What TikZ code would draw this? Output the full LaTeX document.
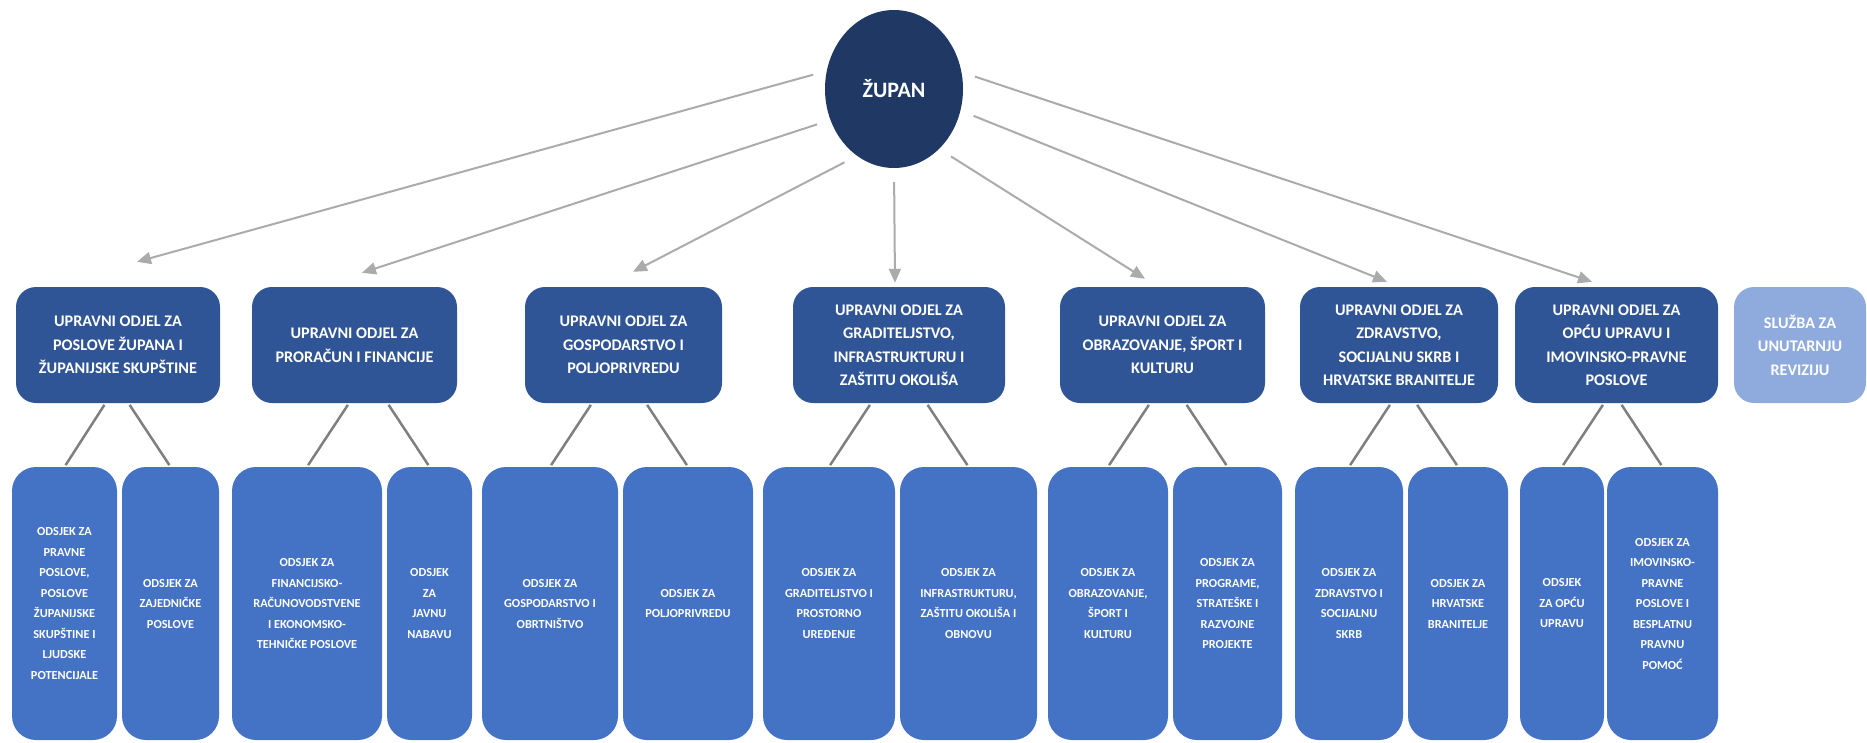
\documentclass[tikz,border=0pt]{standalone}
\usepackage{fontspec}
\setmainfont{Carlito}
\usepackage{tikz}
\definecolor{zupanblue}{HTML}{1F3864}
\definecolor{odjelblue}{HTML}{2F5597}
\definecolor{odsjekblue}{HTML}{4472C4}
\definecolor{sluzbablue}{HTML}{8FAADC}
\definecolor{arrowgray}{HTML}{ABABAB}
\definecolor{linkgray}{HTML}{7F7F7F}
\tikzstyle{arrow} = [line width=2pt, draw=arrowgray, ->, >={Triangle[length=14pt,width=12pt]}, shorten <=14pt]
\tikzstyle{link} = [line width=2.5pt, draw=linkgray, shorten <=2pt, shorten >=2pt]
\tikzstyle{odjel} = [rectangle, rounded corners=20pt, fill=odjelblue, text=white, minimum height=116pt, align=center, font=\fontsize{16.2}{23.5}\selectfont\bfseries]
\tikzstyle{odsjek} = [rectangle, rounded corners=24pt, fill=odsjekblue, text=white, minimum height=273pt, align=center, font=\fontsize{12.3}{20.5}\selectfont\bfseries]
\usetikzlibrary{shapes.geometric, positioning, arrows.meta}

\begin{document}
\begin{tikzpicture}[x=1pt, y=1pt]
            \useasboundingbox (0,0) rectangle (1867,-742);
            \node (zupan) [ellipse, at={(894,-89)}, fill=zupanblue, text=white, minimum width=138pt, minimum height=158pt, inner sep=0pt, font=\fontsize{22}{26}\selectfont\bfseries] {ŽUPAN};

            \node (odjel_4) [odjel, below of=zupan, node distance=256pt, xshift=5pt, minimum width=212pt] {UPRAVNI ODJEL ZA\\GRADITELJSTVO,\\INFRASTRUKTURU I\\ZAŠTITU OKOLIŠA};
            \node (odjel_3) [odjel, left of=odjel_4, node distance=275.5pt, minimum width=197pt] {UPRAVNI ODJEL ZA\\GOSPODARSTVO I\\POLJOPRIVREDU};
            \node (odjel_2) [odjel, left of=odjel_3, node distance=269pt, minimum width=205pt] {UPRAVNI ODJEL ZA\\PRORAČUN I FINANCIJE};
            \node (odjel_1) [odjel, left of=odjel_2, node distance=236.5pt, minimum width=204pt] {UPRAVNI ODJEL ZA\\POSLOVE ŽUPANA I\\ŽUPANIJSKE SKUPŠTINE};
            \node (odjel_5) [odjel, right of=odjel_4, node distance=263.5pt, minimum width=205pt] {UPRAVNI ODJEL ZA\\OBRAZOVANJE, ŠPORT I\\KULTURU};
            \node (odjel_6) [odjel, right of=odjel_5, node distance=236.5pt, minimum width=198pt] {UPRAVNI ODJEL ZA\\ZDRAVSTVO,\\SOCIJALNU SKRB I\\HRVATSKE BRANITELJE};
            \node (odjel_7) [odjel, right of=odjel_6, node distance=217.5pt, minimum width=203pt] {UPRAVNI ODJEL ZA\\OPĆU UPRAVU I\\IMOVINSKO-PRAVNE\\POSLOVE};
            \node (sluzba) [odjel, fill=sluzbablue, right of=odjel_7, node distance=183.5pt, minimum width=132pt] {SLUŽBA ZA\\UNUTARNJU\\REVIZIJU};

            \node (odsjek_1a) [odsjek, below of=odjel_1, node distance=258.5pt, xshift=-53.5pt, minimum width=105pt] {ODSJEK ZA\\PRAVNE\\POSLOVE,\\POSLOVE\\ŽUPANIJSKE\\SKUPŠTINE I\\LJUDSKE\\POTENCIJALE};
            \node (odsjek_1b) [odsjek, below of=odjel_1, node distance=258.5pt, xshift=52.5pt, minimum width=97pt] {ODSJEK ZA\\ZAJEDNIČKE\\POSLOVE};
            \node (odsjek_2a) [odsjek, below of=odjel_2, node distance=258.5pt, xshift=-47.5pt, minimum width=150pt] {ODSJEK ZA\\FINANCIJSKO-\\RAČUNOVODSTVENE\\I EKONOMSKO-\\TEHNIČKE POSLOVE};
            \node (odsjek_2b) [odsjek, below of=odjel_2, node distance=258.5pt, xshift=75pt, minimum width=85pt] {ODSJEK\\ZA\\JAVNU\\NABAVU};
            \node (odsjek_3a) [odsjek, below of=odjel_3, node distance=258.5pt, xshift=-73.5pt, minimum width=136pt] {ODSJEK ZA\\GOSPODARSTVO I\\OBRTNIŠTVO};
            \node (odsjek_3b) [odsjek, below of=odjel_3, node distance=258.5pt, xshift=64.5pt, minimum width=130pt] {ODSJEK ZA\\POLJOPRIVREDU};
            \node (odsjek_4a) [odsjek, below of=odjel_4, node distance=258.5pt, xshift=-70pt, minimum width=132pt] {ODSJEK ZA\\GRADITELJSTVO I\\PROSTORNO\\UREĐENJE};
            \node (odsjek_4b) [odsjek, below of=odjel_4, node distance=258.5pt, xshift=69.5pt, minimum width=137pt] {ODSJEK ZA\\INFRASTRUKTURU,\\ZAŠTITU OKOLIŠA I\\OBNOVU};
            \node (odsjek_5a) [odsjek, below of=odjel_5, node distance=258.5pt, xshift=-54.5pt, minimum width=120pt] {ODSJEK ZA\\OBRAZOVANJE,\\ŠPORT I\\KULTURU};
            \node (odsjek_5b) [odsjek, below of=odjel_5, node distance=258.5pt, xshift=65pt, minimum width=109pt] {ODSJEK ZA\\PROGRAME,\\STRATEŠKE I\\RAZVOJNE\\PROJEKTE};
            \node (odsjek_6a) [odsjek, below of=odjel_6, node distance=258.5pt, xshift=-50pt, minimum width=108pt] {ODSJEK ZA\\ZDRAVSTVO I\\SOCIJALNU\\SKRB};
            \node (odsjek_6b) [odsjek, below of=odjel_6, node distance=258.5pt, xshift=59pt, minimum width=100pt] {ODSJEK ZA\\HRVATSKE\\BRANITELJE};
            \node (odsjek_7a) [odsjek, below of=odjel_7, node distance=258.5pt, xshift=-54.5pt, minimum width=84pt] {ODSJEK\\ZA OPĆU\\UPRAVU};
            \node (odsjek_7b) [odsjek, below of=odjel_7, node distance=258.5pt, xshift=46pt, minimum width=111pt] {ODSJEK ZA\\IMOVINSKO-\\PRAVNE\\POSLOVE I\\BESPLATNU\\PRAVNU\\POMOĆ};

            \draw [arrow] (zupan.165) -- ([xshift=19pt, yshift=25pt]odjel_1.north);
            \draw [arrow] (zupan.206) -- ([xshift=7.5pt, yshift=14pt]odjel_2.north);
            \draw [arrow] (zupan.241) -- ([xshift=9.5pt, yshift=15pt]odjel_3.north);
            \draw [arrow] (zupan.270) -- ([xshift=-4pt, yshift=4pt]odjel_4.north);
            \draw [arrow] (zupan.307) -- ([xshift=-17.5pt, yshift=8pt]odjel_5.north);
            \draw [arrow] (zupan.342) -- ([xshift=-12pt, yshift=5pt]odjel_6.north);
            \draw [arrow] (zupan.14) -- ([xshift=-24.5pt, yshift=5pt]odjel_7.north);

            \draw [link] ([xshift=41pt]odsjek_1a.north |- odjel_1.south) -- (odsjek_1a.north);
            \draw [link] ([xshift=-42pt]odsjek_1b.north |- odjel_1.south) -- (odsjek_1b.north);
            \draw [link] ([xshift=42pt]odsjek_2a.north |- odjel_2.south) -- (odsjek_2a.north);
            \draw [link] ([xshift=-42pt]odsjek_2b.north |- odjel_2.south) -- (odsjek_2b.north);
            \draw [link] ([xshift=42pt]odsjek_3a.north |- odjel_3.south) -- (odsjek_3a.north);
            \draw [link] ([xshift=-42pt]odsjek_3b.north |- odjel_3.south) -- (odsjek_3b.north);
            \draw [link] ([xshift=42pt]odsjek_4a.north |- odjel_4.south) -- (odsjek_4a.north);
            \draw [link] ([xshift=-42pt]odsjek_4b.north |- odjel_4.south) -- (odsjek_4b.north);
            \draw [link] ([xshift=42pt]odsjek_5a.north |- odjel_5.south) -- (odsjek_5a.north);
            \draw [link] ([xshift=-42pt]odsjek_5b.north |- odjel_5.south) -- (odsjek_5b.north);
            \draw [link] ([xshift=42pt]odsjek_6a.north |- odjel_6.south) -- (odsjek_6a.north);
            \draw [link] ([xshift=-42pt]odsjek_6b.north |- odjel_6.south) -- (odsjek_6b.north);
            \draw [link] ([xshift=42pt]odsjek_7a.north |- odjel_7.south) -- (odsjek_7a.north);
            \draw [link] ([xshift=-42pt]odsjek_7b.north |- odjel_7.south) -- (odsjek_7b.north);
\end{tikzpicture}
\end{document}
